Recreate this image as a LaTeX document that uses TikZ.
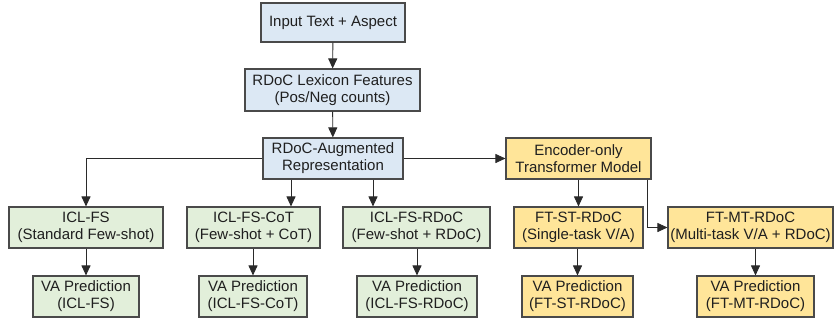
\documentclass[tikz,border=0pt]{standalone}
\usepackage{fontspec}
\setmainfont{Liberation Sans}
\usetikzlibrary{arrows.meta,calc}
\definecolor{bluef}{HTML}{DCE8F4}
\definecolor{greenf}{HTML}{E2EFDA}
\definecolor{yellowf}{HTML}{FFE599}
\definecolor{edgec}{HTML}{4A4A4A}
\definecolor{linec}{HTML}{2A2A2A}
\begin{document}
\begin{tikzpicture}[x=1pt,y=-1pt,
  box/.style={draw=edgec,line width=1.1pt,rectangle,align=center,inner sep=0pt,
    font=\fontsize{15}{17}\selectfont,text=black!88},
  bbox/.style={box,fill=bluef},
  gbox/.style={box,fill=greenf},
  ybox/.style={box,fill=yellowf},
  arr/.style={draw=linec,line width=0.9pt,-{Triangle[length=10pt,width=9pt]}}]
\useasboundingbox (0,0) rectangle (838,322);
\node[bbox,minimum width=144pt,minimum height=39pt] (in) at (333,22.5) {Input Text + Aspect};
\node[bbox,minimum width=175pt,minimum height=42pt] (lex) at (332.5,90) {RDoC Lexicon Features\\(Pos/Neg counts)};
\node[bbox,minimum width=140pt,minimum height=41pt] (aug) at (333,158.5) {RDoC-Augmented\\Representation};
\node[ybox,minimum width=145pt,minimum height=41pt] (enc) at (578.5,158.5) {Encoder-only\\Transformer Model};
\node[gbox,minimum width=154pt,minimum height=41pt] (fs) at (86,227.5) {ICL-FS\\(Standard Few-shot)};
\node[gbox,minimum width=133pt,minimum height=41pt] (cot) at (253.5,227.5) {ICL-FS-CoT\\(Few-shot + CoT)};
\node[gbox,minimum width=147pt,minimum height=41pt] (rdoc) at (416.5,227.5) {ICL-FS-RDoC\\(Few-shot + RDoC)};
\node[ybox,minimum width=129pt,minimum height=41pt] (st) at (578.5,227.5) {FT-ST-RDoC\\(Single-task V/A)};
\node[ybox,minimum width=165pt,minimum height=41pt] (mt) at (750.5,227.5) {FT-MT-RDoC\\(Multi-task V/A + RDoC)};
\node[gbox,minimum width=106pt,minimum height=41pt] (vafs) at (86,296.5) {VA Prediction\\(ICL-FS)};
\node[gbox,minimum width=108pt,minimum height=41pt] (vacot) at (253,296.5) {VA Prediction\\(ICL-FS-CoT)};
\node[gbox,minimum width=120pt,minimum height=41pt] (vardoc) at (417,296.5) {VA Prediction\\(ICL-FS-RDoC)};
\node[ybox,minimum width=111pt,minimum height=41pt] (vast) at (577.5,296.5) {VA Prediction\\(FT-ST-RDoC)};
\node[ybox,minimum width=117pt,minimum height=41pt] (vamt) at (755.5,296.5) {VA Prediction\\(FT-MT-RDoC)};
\coordinate (xcot) at (291,0);
\coordinate (xrdoc) at (373,0);
\coordinate (xmt) at (647,0);
\draw[arr] (in) -- (lex);
\draw[arr] (lex) -- (aug);
\draw[arr] (aug.west) -| (fs.north);
\draw[arr] (aug.south -| xcot) -- (cot.north -| xcot);
\draw[arr] (aug.south -| xrdoc) -- (rdoc.north -| xrdoc);
\draw[arr] (aug.east) -- (enc.west);
\draw[arr] (enc.south -| st.north) -- (st.north);
\draw[arr] (enc.south -| xmt) |- (mt.west);
\draw[arr] (fs) -- (vafs);
\draw[arr] (cot.south -| vacot.north) -- (vacot.north);
\draw[arr] (rdoc.south -| vardoc.north) -- (vardoc.north);
\draw[arr] (st.south -| vast.north) -- (vast.north);
\draw[arr] (mt.south -| vamt.north) -- (vamt.north);
\end{tikzpicture}
\end{document}
